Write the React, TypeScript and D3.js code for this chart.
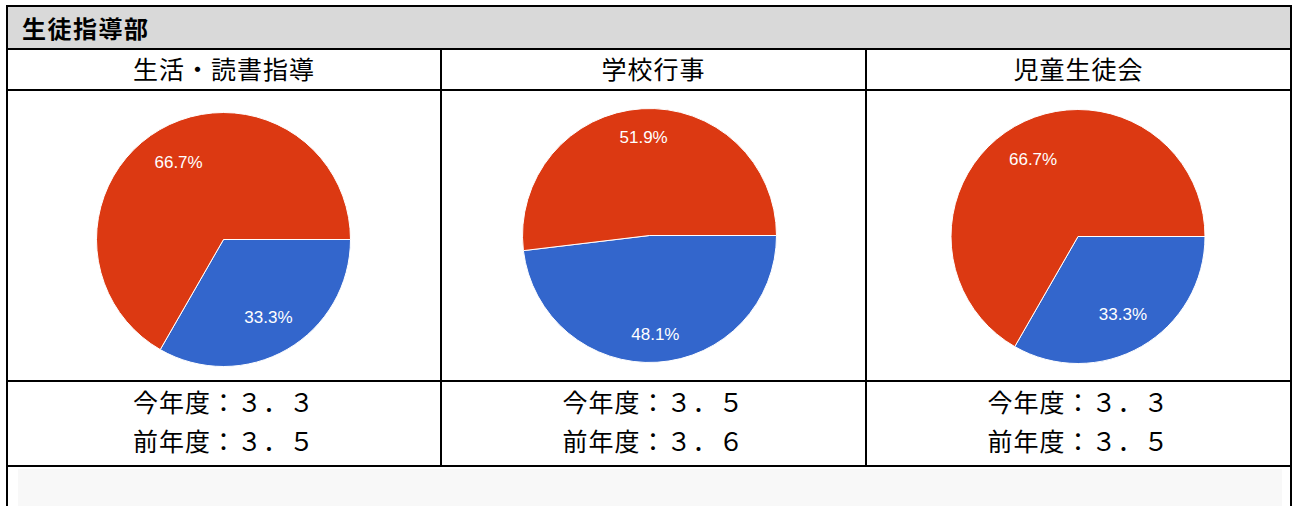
import React from "react";
import * as d3 from "d3";

const sectionTitle = "生徒指導部";
const categories = ["生活・読書指導", "学校行事", "児童生徒会"];
const redValues = [66.7, 51.9, 66.7];
const blueValues = [33.3, 48.1, 33.3];
const thisYearScores = ["３．３", "３．５", "３．３"];
const lastYearScores = ["３．５", "３．６", "３．５"];
const thisYearLabel = "今年度：";
const lastYearLabel = "前年度：";

const W = 1295;
const H = 506;
const colX = [7, 441, 866, 1291];
const rowY = [6, 49, 90, 381, 466];
const pieDx = [-0.5, -4, -0.5];
const pieDy = [4, 0, 1];
const RED = "#dc3912";
const BLUE = "#3366cc";
const JP = "'Noto Sans CJK JP', 'Noto Sans', sans-serif";
const LABEL_FS = 17;

function textWidth(s: string, fs: number) {
  let w = 0;
  for (const c of s) {
    if (c === ".") w += 0.278;
    else if (c === "%") w += 0.889;
    else w += 0.556;
  }
  return w * fs;
}

export default function App() {
  const radius = 127;
  const fitR = 108.5;
  const arc = d3.arc<d3.PieArcDatum<number>>().innerRadius(0).outerRadius(radius);
  const pie = d3
    .pie<number>()
    .sort(null)
    .value((d) => d)
    .startAngle(Math.PI / 2)
    .endAngle(Math.PI / 2 + 2 * Math.PI);

  const labelPos = (a: d3.PieArcDatum<number>, label: string) => {
    const mid = (a.startAngle + a.endAngle) / 2;
    const dx = Math.sin(mid);
    const dy = -Math.cos(mid);
    const hw = textWidth(label, LABEL_FS) / 2;
    const hh = (0.716 * LABEL_FS) / 2;
    const ax = Math.abs(dx);
    const by = Math.abs(dy);
    const p = ax * hw + by * hh;
    const t = -p + Math.sqrt(p * p - (hw * hw + hh * hh - fitR * fitR));
    return [t * dx, t * dy];
  };

  return (
    <svg
      width={W}
      height={H}
      style={{ position: "absolute", left: 0, top: 0, display: "block" }}
    >
      <rect x={0} y={0} width={W} height={H} fill="#fff" />
      <rect x={colX[0]} y={rowY[0]} width={colX[3] - colX[0]} height={rowY[1] - rowY[0]} fill="#d9d9d9" />
      <rect x={18} y={469} width={1264} height={H - 469} fill="#f8f8f8" />
      <text x={22} y={38} fontFamily={JP} fontWeight={700} fontSize={24} letterSpacing={1.5} fill="#000">
        {sectionTitle}
      </text>

      {categories.map((cat, i) => {
        const cx = (colX[i] + colX[i + 1]) / 2;
        const pcx = cx + pieDx[i];
        const pcy = (rowY[2] + rowY[3]) / 2 + pieDy[i];
        const arcs = pie([blueValues[i], redValues[i]]);
        const colors = [BLUE, RED];
        return (
          <g key={cat}>
            <text x={cx} y={79} textAnchor="middle" fontFamily={JP} fontSize={25} letterSpacing={1} fill="#000">
              {cat}
            </text>
            <g transform={`translate(${pcx},${pcy})`}>
              {arcs.map((a, j) => (
                <path key={j} d={arc(a) || ""} fill={colors[j]} stroke="#fff" strokeWidth={1} />
              ))}
              {arcs.map((a, j) => {
                const label = (a.data as number).toFixed(1) + "%";
                const [lx, ly] = labelPos(a, label);
                return (
                  <text
                    key={"l" + j}
                    x={lx}
                    y={ly}
                    dy="0.36em"
                    textAnchor="middle"
                    fontFamily="'Liberation Sans', Arial, sans-serif"
                    fontSize={LABEL_FS}
                    fill="#fff"
                  >
                    {label}
                  </text>
                );
              })}
            </g>
            <text x={cx} y={412} textAnchor="middle" fontFamily={JP} fontSize={25} letterSpacing={1} fill="#000">
              {thisYearLabel + thisYearScores[i]}
            </text>
            <text x={cx} y={451} textAnchor="middle" fontFamily={JP} fontSize={25} letterSpacing={1} fill="#000">
              {lastYearLabel + lastYearScores[i]}
            </text>
          </g>
        );
      })}

      <g stroke="#000" strokeWidth={2}>
        <line x1={colX[0]} x2={colX[0]} y1={rowY[0] - 1} y2={H} />
        <line x1={colX[3]} x2={colX[3]} y1={rowY[0] - 1} y2={H} />
        {rowY.map((y, k) => (
          <line key={"h" + k} x1={colX[0] - 1} x2={colX[3] + 1} y1={y} y2={y} />
        ))}
        {[colX[1], colX[2]].map((x, k) => (
          <line key={"v" + k} x1={x} x2={x} y1={rowY[1]} y2={rowY[4]} />
        ))}
      </g>
    </svg>
  );
}
